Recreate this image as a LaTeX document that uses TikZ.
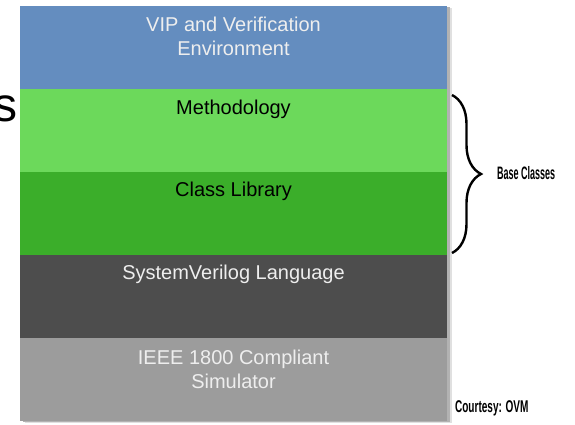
\documentclass[tikz,border=0pt]{standalone}
\usepackage{fontspec}
\setmainfont{Liberation Sans}
\usetikzlibrary{positioning, fit, backgrounds, decorations.pathreplacing}
\definecolor{vipblue}{HTML}{648DBF}
\definecolor{methgreen}{HTML}{6CD95B}
\definecolor{libgreen}{HTML}{3BAE2A}
\definecolor{svgray}{HTML}{4D4D4D}
\definecolor{simgray}{HTML}{9C9C9C}
\definecolor{lighttext}{HTML}{EEEEEE}

\begin{document}
\begin{tikzpicture}[x=1pt, y=-1pt,
  layer/.style={minimum width=427pt, minimum height=83pt, inner sep=0pt, outer sep=0pt},
  layertext/.style={font=\fontsize{20}{24}\selectfont, align=center, inner sep=0pt},
  smallnote/.style={font=\bfseries\fontsize{17}{20}\selectfont, inner sep=0pt}]
  \useasboundingbox (0,0) rectangle (575,424);
  \clip (0,0) rectangle (575,424);
  % stray slide text
  \node[font=\fontsize{48}{50}\selectfont, inner sep=0pt, anchor=base east] (stray) at (18,121) {s};
  % layers
  \node[layer, fill=vipblue] (vip) at (233.5,47.5) {};
  \node[layer, fill=methgreen, below=0pt of vip] (meth) {};
  \node[layer, fill=libgreen, below=0pt of meth] (lib) {};
  \node[layer, fill=svgray, below=0pt of lib] (sv) {};
  \node[layer, fill=simgray, below=0pt of sv] (sim) {};
  \begin{scope}[on background layer]
    \node[fit=(vip)(sim), inner sep=0pt, fill=black!12, xshift=5pt, yshift=-2pt] (shadowout) {};
    \node[fit=(vip)(sim), inner sep=0pt, fill=black!30, xshift=3pt, yshift=-1pt] (shadowin) {};
  \end{scope}
  % labels
  \node[layertext, text=lighttext, below=11pt of vip.north] (viptext) {VIP and Verification\\Environment};
  \node[layertext, below=11pt of meth.north] (methtext) {Methodology};
  \node[layertext, below=10pt of lib.north] (libtext) {Class Library};
  \node[layertext, text=lighttext, below=10pt of sv.north] (svtext) {SystemVerilog Language};
  \node[layertext, text=lighttext, below=12pt of sim.north] (simtext) {IEEE 1800 Compliant\\Simulator};
  % brace
  \coordinate (btop) at (452,95);
  \coordinate (bbot) at (452,253);
  \draw[line width=2.4pt, decorate, decoration={brace, amplitude=29pt}] (btop) -- (bbot);
  \node[smallnote, font=\bfseries\fontsize{18}{20}\selectfont, xscale=0.5, anchor=west] (baseclasses) at (497,173) {Base Classes};
  \node[smallnote, xscale=0.59, anchor=base west] (courtesy) at (455,412) {Courtesy: OVM};
\end{tikzpicture}
\end{document}
